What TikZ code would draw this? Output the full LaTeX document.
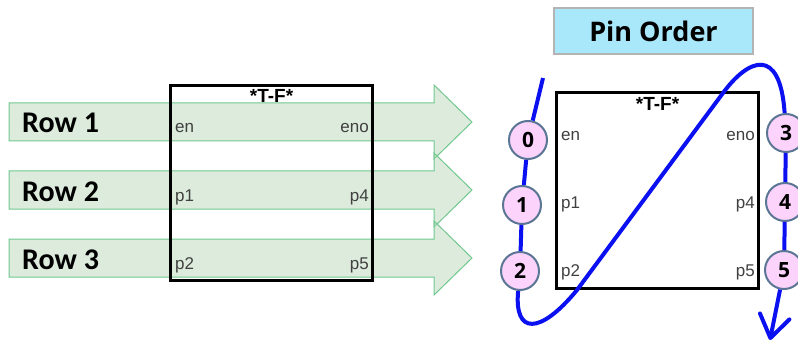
\documentclass[tikz,border=0pt]{standalone}
\usepackage{fontspec}
\setmainfont{Liberation Sans}
\newfontfamily\rowfont{Carlito}
\newfontfamily\pinfont{Open Sans}
\usetikzlibrary{arrows.meta,positioning,calc}
\definecolor{Flow}{HTML}{0A10F0}
\definecolor{RowGreen}{HTML}{B9D7B9}
\definecolor{RowEdge}{HTML}{70C890}
\definecolor{PinFill}{HTML}{FBD3FB}
\definecolor{PinEdge}{HTML}{5B7594}
\definecolor{TitleFill}{HTML}{A9E8FB}
\definecolor{TitleEdge}{HTML}{B4B4B4}
\definecolor{PortText}{HTML}{404040}

\begin{document}
\begin{tikzpicture}[x=1pt,y=-1pt,
    rowarrow/.style={draw=RowEdge,line width=1pt,fill=RowGreen,fill opacity=0.5},
    rowlabel/.style={anchor=base west,inner sep=0pt,font=\rowfont\bfseries\fontsize{30}{30}\selectfont},
    fblock/.style={rectangle,draw=black,line width=3pt,minimum width=202pt,minimum height=195pt},
    fbname/.style={anchor=base,inner sep=0pt,font=\bfseries\fontsize{19}{19}\selectfont},
    port/.style={inner sep=0pt,text=PortText,font=\fontsize{17}{17}\selectfont},
    pin/.style={circle,draw=PinEdge,fill=PinFill,line width=2pt,minimum size=38pt,inner sep=0pt,font=\pinfont\bfseries\fontsize{21}{21}\selectfont},
    title/.style={rectangle,draw=TitleEdge,fill=TitleFill,line width=2.5pt,minimum width=199pt,minimum height=46pt,font=\pinfont\bfseries\fontsize{27}{27}\selectfont},
    flow/.style={draw=Flow,line width=4pt,-{Straight Barb[length=22pt,width=30pt,round]}},
]
\useasboundingbox (0,0) rectangle (798,342);

% rows
\foreach \r/\c in {1/122,2/190,3/258}{
  \draw[rowarrow] (9,\c-19) -- (434,\c-19) -- (434,\c-37) -- (472,\c) -- (434,\c+37) -- (434,\c+19) -- (9,\c+19) -- cycle;
  \node[rowlabel] (row\r) at (22,\c+11) {Row \r};
}

% function blocks
\node[fblock] (tfL) at (271.5,183) {};
\node[fblock] (tfR) at (657.5,190.5) {};
\foreach \b in {tfL,tfR}{
  \node[fbname] at ($(\b.north)+(0,19)$) {*T-F*};
  \node[port,anchor=base west] at ($(\b.north west)+(6,49)$) {en};
  \node[port,anchor=base west] at ($(\b.north west)+(6,117)$) {p1};
  \node[port,anchor=base west] at ($(\b.north west)+(6,185)$) {p2};
  \node[port,anchor=base east] at ($(\b.north east)+(-5,49)$) {eno};
  \node[port,anchor=base east] at ($(\b.north east)+(-5,117)$) {p4};
  \node[port,anchor=base east] at ($(\b.north east)+(-5,185)$) {p5};
}

\node[title,above=36pt of tfR,xshift=-4pt] (order) {Pin Order};

% pin order
\node[pin] (pin0) at (528,140) {0};
\node[pin] (pin1) at (522,205) {1};
\node[pin] (pin2) at (520,271) {2};
\node[pin] (pin3) at (786,133) {3};
\node[pin] (pin4) at (785,202) {4};
\node[pin] (pin5) at (784,270) {5};
\coordinate (flowstart) at (543,78);
\coordinate (flowend) at (770,340);
\draw[flow] (flowstart) -- (pin0) -- (pin1) -- (pin2)
  .. controls (514,335) and (540,335) .. (577,290) -- (723,93)
  .. controls (748,59) and (780,45) .. (pin3) -- (pin4) -- (pin5) -- (flowend);
\end{tikzpicture}
\end{document}
